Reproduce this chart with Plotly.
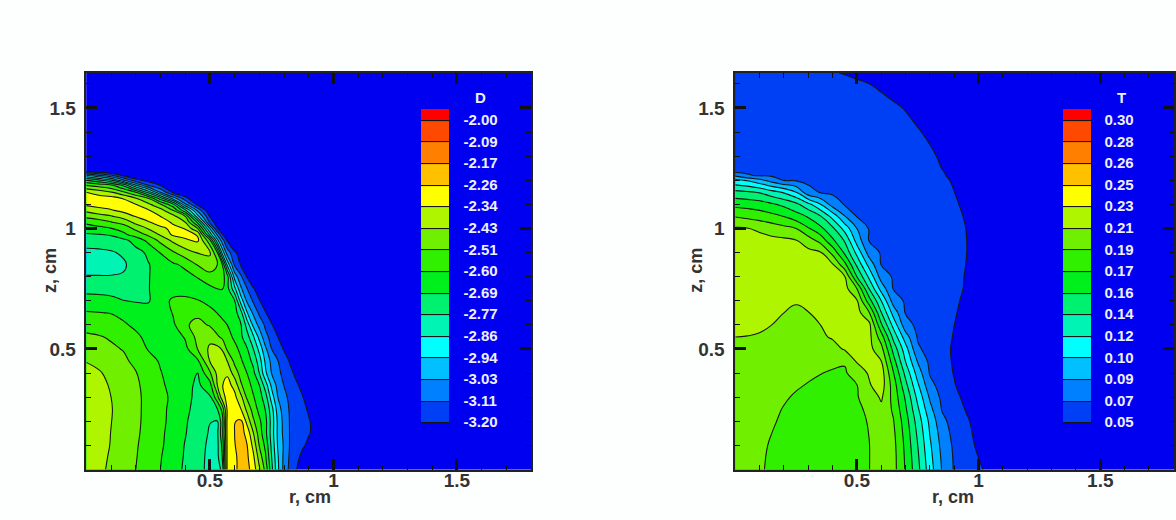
import plotly.graph_objects as go

BAND_COLORS = ["#0000f0", "#0040f5", "#0080ff", "#00c0ff", "#00ffff", "#00f5b5", "#00f070", "#00f01e",
               "#30f000", "#70f000", "#b0f500", "#ffff00", "#ffc000", "#ff8000", "#ff4800", "#ff0000"]

D_LABELS = ["-3.20", "-3.11", "-3.03", "-2.94", "-2.86", "-2.77", "-2.69", "-2.60",
            "-2.51", "-2.43", "-2.34", "-2.26", "-2.17", "-2.09", "-2.00"]
T_LABELS = ["0.05", "0.07", "0.09", "0.10", "0.12", "0.14", "0.16", "0.17",
            "0.19", "0.21", "0.23", "0.25", "0.26", "0.28", "0.30"]
D_LOW, D_HIGH = -3.20, -2.00
T_LOW, T_HIGH = 0.05, 0.30
N_STEPS = 14
FAR = -3

# Field values, in contour-level units (0 = lowest label, 14 = highest)
D_R = [0, .05, .1, .15, .2, .25, .3, .35, .4, .45, .5, .53, .55, .57, .6, .625, .65, .675, .7, .725, .75,
       .775, .8, .825, .85, .875, .9, .95, 1.81]
D_Z = [0, .05, .1, .15, .2, .25, .3, .35, .4, .45, .5, .55, .6, .65, .7, .75, .8, .85, .9, .95, .975, 1.0,
       1.025, 1.05, 1.075, 1.1, 1.125, 1.15, 1.18, 1.2, 1.22, 1.2365, 1.25, 1.65]
D_GRID = [
 [9.6,9.25,8.8,8.4,8.0,7.5,7.0,6.4,5.85,5.3,4.75,4.6,5.2,10.1,10.75,11.4,11.3,10.6,9.15,7.7,5.3,3.2,1.7,.68,.036,-.64,-1.3,-2.6,-3],
 [9.7,9.3,8.88,8.45,8.05,7.55,7.05,6.5,5.9,5.35,4.75,4.7,6.0,10.1,10.8,11.35,11.2,10.25,8.6,7.15,5.0,3.1,1.75,.79,.26,-.29,-.82,-1.9,-3],
 [9.8,9.4,8.95,8.5,8.1,7.6,7.15,6.55,5.95,5.4,4.8,4.75,6.2,10.1,10.95,11.4,11.05,9.75,7.95,6.75,4.75,2.9,1.85,.88,.52,.14,-.22,-.96,-3],
 [9.85,9.45,8.98,8.55,8.15,7.7,7.2,6.6,6.05,5.5,4.9,4.8,6.7,10.15,11.0,11.4,10.7,9.1,7.5,6.3,4.55,2.8,1.72,.91,.63,.34,.06,-.51,-3],
 [9.9,9.5,9.02,8.6,8.2,7.72,7.25,6.7,6.1,5.6,5.03,4.97,6.5,10.15,10.95,11.2,9.7,8.2,7.2,6.3,4.6,2.8,1.65,.9,.63,.34,.06,-.51,-3],
 [9.9,9.5,9.05,8.6,8.2,7.75,7.25,6.75,6.2,5.7,5.45,5.95,7.3,10.1,10.85,10.05,8.75,7.6,6.7,5.95,4.4,2.5,1.5,.86,.54,.21,-.1,-.75,-3],
 [9.85,9.45,9.0,8.6,8.2,7.75,7.3,6.8,6.3,5.75,5.85,7.6,9.6,10.3,10.25,9.3,7.85,7.1,6.45,5.45,3.5,2.0,1.25,.76,.41,.04,-.31,-1.04,-3],
 [9.7,9.3,8.9,8.5,8.15,7.7,7.2,6.65,6.35,5.8,6.6,9.0,9.95,10.35,9.7,8.15,7.4,6.75,6.0,4.5,2.75,1.65,.96,.53,.13,-.29,-.69,-1.5,-3],
 [9.4,9.1,8.75,8.4,8.05,7.55,7.05,6.6,6.25,6.0,7.85,9.25,9.85,9.85,8.5,7.65,7.0,6.3,5.0,3.2,1.95,1.25,.7,.23,-.23,-.7,-1.15,-2,-3],
 [8.95,8.75,8.5,8.2,7.75,7.35,6.9,6.45,6.4,6.8,9.05,9.4,9.3,9.0,7.75,7.15,6.5,5.75,4.5,2.8,1.7,1.03,.45,-.12,-.66,-1.2,-1.77,-2.9,-3],
 [8.5,8.35,8.15,7.95,7.45,6.95,6.6,6.4,6.7,8.0,9.2,9.3,8.95,7.85,7.3,6.75,6.1,5.05,3.7,2.2,1.0,.47,-.09,-.65,-1.18,-1.7,-2.2,-3,-3],
 [8.15,8.07,7.9,7.5,7.15,6.8,6.5,6.45,7.1,8.3,8.7,8.15,7.8,7.4,6.8,6.2,5.4,4.2,2.7,1.3,.64,0.001,-.68,-1.36,-2,-2.5,-2.8,-3,-3],
 [7.7,7.55,7.35,7.1,6.85,6.6,6.35,6.8,7.85,8.3,7.9,7.45,7.2,7.0,6.5,6.1,4.65,2.8,1.65,.8,.08,-.6,-1.33,-2,-2.5,-2.8,-3,-3,-3],
 [7.08,7.03,6.97,6.8,6.6,6.45,6.4,7.05,7.65,7.75,7.3,6.98,6.8,6.6,6.4,5.4,3.1,1.85,.8,.08,-.68,-1.4,-2.1,-2.6,-2.8,-3,-3,-3,-3],
 [6.4,6.32,6.2,6.02,5.92,5.9,6.6,7.15,7.25,7.05,6.7,6.45,6.3,6.2,6.05,3.6,1.85,.88,.08,-.67,-1.5,-2.2,-2.6,-2.8,-3,-3,-3,-3,-3],
 [5.7,5.7,5.7,5.6,5.55,5.97,6.25,6.6,6.55,6.6,6.8,7.0,7.05,6.4,4.3,2.2,1.05,.15,-.8,-1.7,-2.4,-2.7,-2.9] + [FAR] * 6,
 [5.05,5.05,5.05,5.1,5.4,5.97,6.2,6.4,6.7,7.05,7.55,7.65,7.35,6.5,2.6,1.2,-.07,-1.3,-2.4,-2.8] + [FAR] * 9,
 [4.6,4.6,4.65,4.85,5.45,5.95,6.35,6.85,7.2,8.05,8.7,8.0,7.0,3.8,.85,-.1,-1.05,-2,-2.6] + [FAR] * 10,
 [4.75,4.78,4.9,5.15,5.7,6.15,7.05,7.85,8.6,9.05,9.1,7.0,3.7,1.5,.25,-.7,-1.65,-2.5] + [FAR] * 11,
 [5.45,5.5,5.55,5.75,6.35,7.25,8.25,9.2,9.8,10.2,7.3,3.4,1.5,-.1,-2.3] + [FAR] * 14,
 [5.9,5.97,6.1,6.8,7.45,8.2,9.15,10.15,10.4,9.9,4.7,1.8,.1,-1] + [FAR] * 15,
 [6.5,6.75,6.97,7.35,8.25,9.05,9.75,10.25,9.95,8.0,2.9,.1,-1.4] + [FAR] * 16,
 [7.2,7.45,7.9,8.35,9.25,9.85,10.45,9.9,9.05,5.9,.8,-.7,-1.5] + [FAR] * 16,
 [8.25,8.6,8.9,9.4,10.05,10.55,10.0,9.35,8.05,3.4,-.07,-1.6] + [FAR] * 17,
 [9.25,9.6,9.9,10.3,10.6,10.1,9.4,8.05,5.3,1.8,-1.0] + [FAR] * 18,
 [10.2,10.45,10.55,10.4,10.0,9.2,8.1,6.3,2.25,-.35,-1.5] + [FAR] * 18,
 [10.3,10.4,10.4,9.95,9.05,8.0,5.5,2.6,.35,-1.2] + [FAR] * 19,
 [10.0,9.6,9.1,8.2,7.05,4.7,1.95,-.15,-1.0] + [FAR] * 20,
 [7.9,7.5,7.05,5.7,2.95,.95,-.1,-1] + [FAR] * 21,
 [6.1,5.25,4.15,2.15,.35,-.4,-1.2] + [FAR] * 22,
 [3.25,2.1,1.15,-.2,-1] + [FAR] * 24,
 [.02,-.6,-1.2,-1.6,-2,-2.4,-2.7] + [FAR] * 22,
 [-1,-1.5,-2,-2.4,-2.7] + [FAR] * 24,
 [FAR] * 29,
]

T_R = [0, .05, .1, .15, .2, .25, .3, .35, .4, .45, .5, .55, .6, .65, .7, .75, .8, .85, .9, .95, 1.0, 1.05, 1.8]
T_Z = [0, .1, .2, .25, .3, .35, .4, .45, .5, .55, .6, .65, .7, .75, .8, .85, .9, .95, 1.0, 1.05, 1.1, 1.15,
       1.2, 1.22, 1.233, 1.25, 1.3, 1.4, 1.5, 1.6, 1.65]
T_GRID = [
 [8.5,8.3,8.1,7.85,7.65,7.5,7.4,7.35,7.35,7.4,7.6,7.98,8.55,8.35,6.9,5.3,3.45,1.93,.905,.526,.137,-.25,-3],
 [8.6,8.4,8.2,7.9,7.7,7.55,7.45,7.4,7.4,7.5,7.7,7.98,8.5,8.3,6.75,5.0,3.15,1.7,.81,.33,-.16,-.65,-3],
 [8.7,8.55,8.35,8.1,7.85,7.65,7.55,7.5,7.55,7.65,7.8,8.05,8.55,8.05,6.45,4.55,2.75,1.25,.605,.13,-.355,-.84,-3],
 [8.75,8.6,8.4,8.2,7.95,7.75,7.6,7.6,7.65,7.75,7.85,8.15,8.75,7.85,6.15,4.15,2.3,.93,.425,-.07,-.575,-1.08,-3],
 [8.8,8.65,8.45,8.3,8.1,7.9,7.75,7.7,7.75,7.85,7.95,8.35,9.15,7.65,5.85,3.7,1.85,.76,.25,-.25,-.76,-1.28,-3],
 [8.85,8.7,8.55,8.4,8.25,8.1,7.95,7.85,7.85,7.9,7.98,8.9,9.5,7.5,5.3,3.15,1.3,.586,.057,-.457,-.986,-1.5,-3],
 [8.9,8.75,8.65,8.5,8.4,8.3,8.15,8.02,7.93,7.88,8.5,9.1,9.5,7.05,4.7,2.55,.91,.434,-.05,-.526,-1.01,-1.5,-3],
 [8.92,8.85,8.75,8.65,8.55,8.45,8.35,8.2,8.15,8.1,9.1,9.4,9.0,6.4,3.95,1.9,.753,.33,-.106,-.53,-.96,-1.4,-3],
 [8.97,8.93,8.87,8.8,8.7,8.6,8.5,8.4,8.65,9.1,9.35,9.3,8.35,5.65,3.4,1.15,.646,.27,-.115,-.49,-.875,-1.26,-3],
 [9.0,8.98,8.92,8.85,8.8,8.75,8.72,8.85,9.1,9.35,9.5,9.3,7.5,4.7,2.45,.897,.578,.267,-.05,-.36,-.68,-1,-3],
 [9.2,9.2,9.15,9.0,8.9,8.85,8.88,9.0,9.25,9.4,9.55,9.3,6.15,3.65,1.35,.78,.52,.26,.002,-.255,-.52,-.78,-3],
 [9.4,9.4,9.35,9.25,9.0,8.9,8.98,9.2,9.35,9.45,9.4,8.1,5.05,2.6,.93,.71,.486,.27,.05,-.17,-.39,-.61,-3],
 [9.5,9.5,9.5,9.45,9.2,9.05,9.2,9.35,9.4,9.4,9.1,6.45,4.0,1.53,.857,.66,.466,.278,.084,-.105,-.3,-.49,-3],
 [9.55,9.55,9.55,9.55,9.5,9.2,9.35,9.45,9.4,9.35,8.0,5.0,2.6,.95,.787,.62,.45,.287,.118,-.045,-.214,-.38,-3],
 [9.6,9.6,9.6,9.6,9.55,9.5,9.45,9.4,9.3,9.05,6.0,3.8,1.55,.883,.733,.58,.425,.275,.12,-.03,-.18,-.335,-3],
 [9.6,9.6,9.6,9.58,9.55,9.5,9.4,9.3,9.1,7.3,4.8,2.65,.973,.83,.693,.55,.41,.27,.13,-.008,-.15,-.29,-3],
 [9.6,9.58,9.55,9.5,9.45,9.35,9.25,9.1,7.7,5.8,3.7,1.55,.9,.776,.65,.52,.388,.26,.13,.004,-.127,-.26,-3],
 [9.4,9.35,9.3,9.25,9.2,9.05,8.5,7.65,6.2,4.9,2.6,.958,.84,.72,.6,.48,.36,.242,.12,.003,-.118,-.24,-3],
 [9.1,9.03,8.85,8.55,8.3,8.0,7.1,6.25,5.2,3.6,2,.927,.81,.693,.578,.46,.342,.227,.11,-.006,-.125,-.243,-3],
 [7.95,7.75,7.55,7.3,6.98,6.45,5.9,5.1,3.65,2.05,.95,.84,.733,.622,.515,.405,.295,.188,.077,-.03,-.14,-.25,-3],
 [6.7,6.6,6.45,6.15,5.75,5.25,4.3,3.05,1.55,.92,.823,.724,.627,.528,.43,.332,.233,.137,.037,-.06,-.16,-.257,-3],
 [5.3,5.15,4.93,4.4,3.9,3.05,1.3,.93,.844,.761,.676,.59,.508,.423,.34,.255,.17,.087,.002,-.08,-.166,-.25,-3],
 [3.2,2.9,2.3,1.55,.953,.883,.81,.743,.672,.604,.533,.462,.393,.323,.254,.183,.113,.044,-.027,-.095,-.166,-.237,-3],
 [1.8,1.1,.9,.87,.835,.772,.708,.646,.585,.522,.46,.397,.333,.272,.21,.147,.084,.02,-.043,-.104,-.168,-.23,-3],
 [.93,.9,.87,.82,.77,.71,.65,.6,.54,.48,.43,.37,.31,.25,.19,.13,.07,.01,-.045,-.1,-.165,-.225,-3],
 [.88,.85,.82,.765,.71,.655,.6,.546,.49,.436,.38,.325,.27,.216,.16,.106,.05,-.003,-.06,-.11,-.17,-.22,-3],
 [.85,.795,.745,.69,.64,.59,.54,.49,.437,.386,.335,.283,.232,.18,.13,.078,.027,-.024,-.076,-.126,-.18,-.23,-3],
 [.672,.628,.584,.54,.497,.452,.408,.365,.32,.277,.233,.188,.145,.1,.058,.013,-.03,-.074,-.12,-.16,-.206,-.25,-3],
 [.578,.536,.495,.452,.41,.368,.325,.284,.24,.2,.157,.115,.074,.03,-.01,-.053,-.095,-.137,-.18,-.22,-.263,-.305,-3],
 [.466,.423,.382,.34,.298,.255,.213,.171,.13,.087,.045,.002,-.04,-.08,-.12,-.166,-.208,-.25,-.29,-.33,-.376,-.418,-3],
 [.35,.308,.267,.224,.183,.14,.098,.056,.014,-.028,-.07,-.113,-.154,-.196,-.238,-.28,-.323,-.365,-.408,-.45,-.49,-.534,-3],
]
for grid, rs, zs in ((D_GRID, D_R, D_Z), (T_GRID, T_R, T_Z)):
    assert len(grid) == len(zs), (len(grid), len(zs))
    assert all(len(row) == len(rs) for row in grid), [len(r) for r in grid]

AXIS_TICKS = [0.5, 1, 1.5]
W, H = 1176, 520
TXT = "#333333"
BAR_TXT = "#eeeeff"
FONT = "Liberation Sans"


def to_value(grid, low, high):
    step = (high - low) / N_STEPS
    return [[low + k * step for k in row] for row in grid]


def panel(r, z, grid, low, high, labels, bar_x, label_gap, axis):
    step = (high - low) / N_STEPS
    tick_values = [low + i * step for i in range(N_STEPS + 1)]
    scale = [[i / (len(BAND_COLORS) - 1), c] for i, c in enumerate(BAND_COLORS)]
    return go.Contour(
        x=r, y=z, z=to_value(grid, low, high), xaxis="x" + axis, yaxis="y" + axis,
        autocontour=False, zauto=False, zmin=low - step / 2, zmax=high + step / 2,
        contours=dict(start=low, end=high + step * 0.001, size=step, coloring="fill", showlines=True),
        line=dict(color="#161616", width=1.1, smoothing=1.3),
        colorscale=scale,
        hoverinfo="skip",
        colorbar=dict(
            x=bar_x / W, xanchor="left", xpad=0, y=1 - 271 / H, yanchor="middle", ypad=0,
            len=324, lenmode="pixels", thickness=28, thicknessmode="pixels",
            outlinewidth=0, borderwidth=0, bgcolor="rgba(0,0,0,0)",
            tickmode="array", tickvals=tick_values, ticktext=labels,
            ticks="outside", ticklen=label_gap, tickcolor="rgba(0,0,0,0)",
            tickfont=dict(family=FONT, size=15, color=BAR_TXT, weight="bold"),
        ),
    )


def axis_style(rng, domain, anchor, standoff):
    return dict(
        range=rng, domain=domain, anchor=anchor, tickmode="array", tickvals=AXIS_TICKS,
        ticktext=["0.5", "1", "1.5"], ticks="inside", ticklen=11, tickwidth=2.5, tickcolor="#111111",
        minor=dict(tick0=0, dtick=0.1, ticks="inside", ticklen=5, tickwidth=1.2, tickcolor="#111111"),
        showgrid=False, zeroline=False, showline=True, linecolor="#222222", linewidth=1.5, mirror="allticks",
        tickfont=dict(family=FONT, size=19, color=TXT, weight="bold"), ticklabelstandoff=standoff,
    )


def text(label, px, py, size, color, angle=0):
    return dict(text=label, x=px / W, y=1 - py / H, xref="paper", yref="paper", showarrow=False,
                xanchor="center", yanchor="middle", textangle=angle,
                font=dict(family=FONT, size=size, color=color, weight="bold"))


fig = go.Figure()
fig.add_trace(panel(D_R, D_Z, D_GRID, D_LOW, D_HIGH, D_LABELS, 422, 12, ""))
fig.add_trace(panel(T_R, T_Z, T_GRID, T_LOW, T_HIGH, T_LABELS, 1065, 11, "2"))
ydom = [1 - 469.5 / H, 1 - 73 / H]
fig.update_layout(
    width=W, height=H, margin=dict(l=0, r=0, t=0, b=0), paper_bgcolor="#fdfefe", plot_bgcolor="#0000f0",
    showlegend=False,
    xaxis=axis_style([0, 1.8], [86.5 / W, 532 / W], "y", -7),
    yaxis=axis_style([0, 1.645], ydom, "x", 5),
    xaxis2=axis_style([0, 1.803], [736.5 / W, 1.0], "y2", -7),
    yaxis2=axis_style([0, 1.645], ydom, "x2", 5),
    annotations=[
        text("D", 481, 97, 15, BAR_TXT), text("T", 1123, 97, 15, BAR_TXT),
        text("r, cm", 311, 497, 18, TXT), text("r, cm", 955, 497, 18, TXT),
        text("z, cm", 50, 270, 18, TXT, -90), text("z, cm", 697, 270, 18, TXT, -90),
    ],
)
fig.write_html("out.html", config={"displayModeBar": False}, post_script="document.body.style.margin='0';")
